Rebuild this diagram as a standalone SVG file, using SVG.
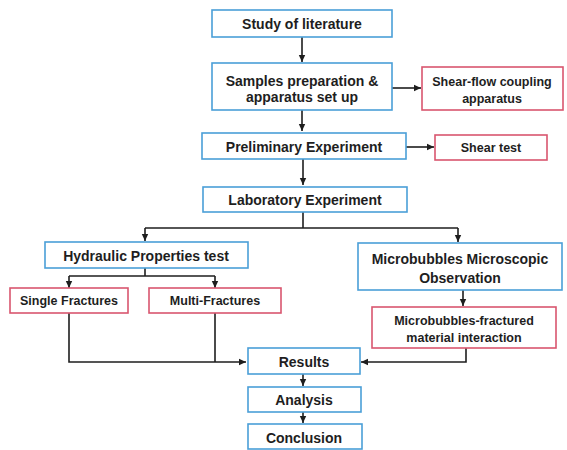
<svg xmlns="http://www.w3.org/2000/svg" width="567" height="450" viewBox="0 0 567 450">
<defs>
<marker id="ah" markerWidth="8" markerHeight="8" refX="7" refY="4" orient="auto" markerUnits="userSpaceOnUse">
<path d="M0,0.8 L7,4 L0,7.2 Z" fill="#1e1e1e"/>
</marker>
<style>
.b{fill:#fff;stroke:#4a9fd8;stroke-width:1.6}
.r{fill:#fff;stroke:#d9566f;stroke-width:1.6}
.t{font-family:"Liberation Sans",Arial,sans-serif;font-weight:bold;font-size:14px;fill:#1e1e1e;text-anchor:middle}
.s{font-size:12.5px}
.c{fill:none;stroke:#1e1e1e;stroke-width:1.6}
</style>
</defs>
<rect width="567" height="450" fill="#fff"/>
<g id="connectors">
<path class="c" d="M302,37 V62" marker-end="url(#ah)"/>
<path class="c" d="M302,110 V131" marker-end="url(#ah)"/>
<path class="c" d="M392,88 H421" marker-end="url(#ah)"/>
<path class="c" d="M406,147 H434" marker-end="url(#ah)"/>
<path class="c" d="M303,159 V185" marker-end="url(#ah)"/>
<path class="c" d="M303,212 V228"/>
<path class="c" d="M145,228 H458"/>
<path class="c" d="M145,228 V241" marker-end="url(#ah)"/>
<path class="c" d="M458,228 V242" marker-end="url(#ah)"/>
<path class="c" d="M145,268 V276"/>
<path class="c" d="M69,276 H215"/>
<path class="c" d="M69,276 V288" marker-end="url(#ah)"/>
<path class="c" d="M215,276 V288" marker-end="url(#ah)"/>
<path class="c" d="M463,290 V306" marker-end="url(#ah)"/>
<path class="c" d="M69,313 V362 H246" marker-end="url(#ah)"/>
<path class="c" d="M215,313 V362"/>
<path class="c" d="M466,348 V362 H361" marker-end="url(#ah)"/>
<path class="c" d="M303,374 V386" marker-end="url(#ah)"/>
<path class="c" d="M303,412 V423" marker-end="url(#ah)"/>
</g>
<g id="study"><rect class="b" x="212" y="10" width="180" height="27"/><text class="t" x="302" y="29">Study of literature</text></g>
<g id="samples"><rect class="b" x="212" y="63" width="180" height="47"/><text class="t" x="302" y="86">Samples preparation &amp;</text><text class="t" x="302" y="102">apparatus set up</text></g>
<g id="shearflow"><rect class="r" x="422" y="67" width="141" height="43"/><text class="t s" x="492" y="86">Shear-flow coupling</text><text class="t s" x="492" y="103">apparatus</text></g>
<g id="preliminary"><rect class="b" x="202" y="133" width="204" height="26"/><text class="t" x="304" y="152">Preliminary Experiment</text></g>
<g id="sheartest"><rect class="r" x="435" y="135" width="112" height="25"/><text class="t s" x="491" y="152">Shear test</text></g>
<g id="laboratory"><rect class="b" x="203" y="187" width="204" height="25"/><text class="t" x="305" y="205">Laboratory Experiment</text></g>
<g id="hydraulic"><rect class="b" x="45" y="242" width="203" height="26"/><text class="t" x="146" y="261">Hydraulic Properties test</text></g>
<g id="microscopic"><rect class="b" x="358" y="243" width="204" height="47"/><text class="t" x="460" y="264">Microbubbles Microscopic</text><text class="t" x="460" y="283">Observation</text></g>
<g id="single"><rect class="r" x="10" y="288" width="118" height="25"/><text class="t s" x="69" y="305">Single Fractures</text></g>
<g id="multi"><rect class="r" x="149" y="288" width="132" height="25"/><text class="t s" x="215" y="305">Multi-Fractures</text></g>
<g id="interaction"><rect class="r" x="372" y="307" width="184" height="41"/><text class="t s" x="464" y="325">Microbubbles-fractured</text><text class="t s" x="464" y="342">material interaction</text></g>
<g id="results"><rect class="b" x="248" y="348" width="112" height="26"/><text class="t" x="304" y="367">Results</text></g>
<g id="analysis"><rect class="b" x="248" y="387" width="113" height="25"/><text class="t" x="304" y="405">Analysis</text></g>
<g id="conclusion"><rect class="b" x="248" y="424" width="114" height="25"/><text class="t" x="304" y="443">Conclusion</text></g>
</svg>
